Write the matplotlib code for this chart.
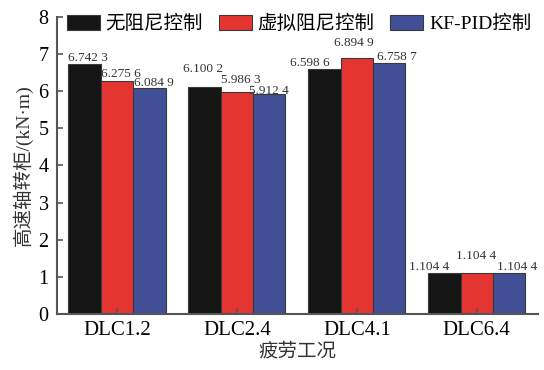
import matplotlib
matplotlib.use("Agg")
import matplotlib.pyplot as plt
import numpy as np

plt.rcParams['font.family'] = ['Liberation Serif', 'Noto Sans CJK SC']
plt.rcParams['axes.unicode_minus'] = False

categories = ["DLC1.2", "DLC2.4", "DLC4.1", "DLC6.4"]
series_names = ["无阻尼控制", "虚拟阻尼控制", "KF-PID控制"]
no_damping = [6.7423, 6.1002, 6.5986, 1.1044]
virtual_damping = [6.2756, 5.9863, 6.8949, 1.1044]
kf_pid = [6.0849, 5.9124, 6.7587, 1.1044]
series = [no_damping, virtual_damping, kf_pid]
colors = ["#151515", "#e53532", "#414f97"]

# label offsets in pixels (dx from bar left edge, dy above bar top), per category then series
label_offsets = [
    [(0, 0), (0, 1), (1, -1)],
    [(-5, 12), (0, 6), (-4, -3)],
    [(-18, 0), (-7, 9), (4, 0)],
    [(-19, 0), (-5, 11), (4, 0)],
]

def fmt(v):
    s = f"{v:.4f}"
    return s[:-1] + " " + s[-1]

fig = plt.figure(figsize=(5.44, 3.70), dpi=100)
ax = fig.add_axes([0.1048, 0.1514, 0.884, 0.803])

x = np.arange(len(categories))
w = 0.27
for j, (vals, name, c) in enumerate(zip(series, series_names, colors)):
    pos = x + (j - 1) * w
    ax.bar(pos, vals, width=w, color=c, edgecolor="#3a3a3a", linewidth=0.8, label=name)
    for i, v in enumerate(vals):
        dx, dy = label_offsets[i][j]
        ax.annotate(fmt(v), xy=(pos[i] - w / 2, v), xytext=(dx * 0.72, dy * 0.72),
                    textcoords="offset points", ha="left", va="bottom",
                    fontsize=9.5, color="#333333", zorder=5)

ax.set_xlim(-0.5, 3.51)
ax.set_ylim(0, 8)
ax.set_xticks(x)
ax.set_xticklabels(categories, fontsize=15)
ax.set_yticks(range(0, 9))
ax.tick_params(axis="y", labelsize=14.5, direction="in", length=4, width=1.2,
               color="#555555", pad=6)
ax.tick_params(axis="x", direction="in", length=4, width=1.2, color="#555555", pad=5)
for s in ("top", "right"):
    ax.spines[s].set_visible(False)
for s in ("left", "bottom"):
    ax.spines[s].set_color("#555555")
    ax.spines[s].set_linewidth(1.5)

ax.set_xlabel("疲劳工况", fontsize=14, labelpad=2, color="#333333")
ax.set_ylabel("高速轴转柜/(kN·m)", fontsize=14, labelpad=4, color="#333333")

ax.legend(loc="upper left", bbox_to_anchor=(0.0, 1.04), ncol=3, frameon=False,
          fontsize=14, handlelength=1.7, handleheight=0.8, handletextpad=0.3,
          columnspacing=0.8, borderaxespad=0.2, borderpad=0.3)

fig.savefig("out.png", dpi=100, facecolor="white")
